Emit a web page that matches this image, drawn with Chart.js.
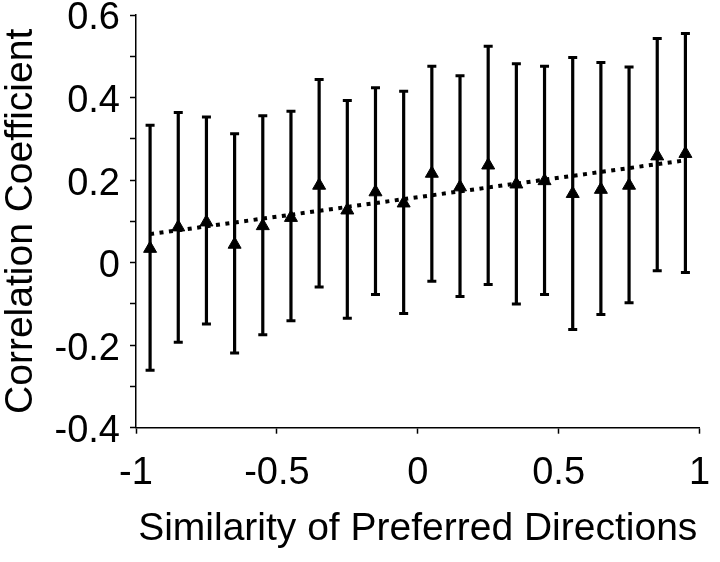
<!DOCTYPE html>
<html>
<head>
<meta charset="utf-8">
<script src="https://cdn.jsdelivr.net/npm/chart.js@4/dist/chart.umd.min.js"></script>
<style>
html,body{margin:0;padding:0;background:#fff;}
#wrap{width:720px;height:562px;}
</style>
</head>
<body>
<div id="wrap"><canvas id="c" width="720" height="562"></canvas></div>
<script>
// Similarity of preferred directions (bin centres)
const similarity = [-0.95,-0.85,-0.75,-0.65,-0.55,-0.45,-0.35,-0.25,-0.15,-0.05,
                    0.05,0.15,0.25,0.35,0.45,0.55,0.65,0.75,0.85,0.95];
// Mean correlation coefficient per bin
const meanCorr  = [0.034,0.086,0.098,0.044,0.089,0.109,0.187,0.127,0.171,0.144,
                   0.216,0.183,0.236,0.190,0.198,0.167,0.177,0.187,0.258,0.264];
// Upper end of error bars
const upperCorr = [0.333,0.364,0.353,0.312,0.356,0.367,0.444,0.393,0.424,0.415,
                   0.476,0.453,0.524,0.482,0.476,0.497,0.485,0.474,0.543,0.555];
// Lower end of error bars
const lowerCorr = [-0.261,-0.193,-0.149,-0.219,-0.175,-0.141,-0.059,-0.135,-0.077,-0.123,
                   -0.045,-0.082,-0.053,-0.100,-0.077,-0.162,-0.126,-0.097,-0.020,-0.024];
// Regression line end points
const fitX = [-0.95, 0.95];
const fitY = [0.069, 0.248];
// Tick labels
const xTickLabels = ['-1','-0.5','0','0.5','1'];
const yTickLabels = ['-0.4','-0.2','0','0.2','0.4','0.6'];

const FONT = "'Liberation Sans', Arial, Helvetica, sans-serif";

const errData = [];
similarity.forEach((x, i) => {
  errData.push({x: x, y: lowerCorr[i]});
  errData.push({x: x, y: upperCorr[i]});
  errData.push({x: x, y: null});
});
const capData = similarity.map((x, i) => ({x: x, y: upperCorr[i]}))
  .concat(similarity.map((x, i) => ({x: x, y: lowerCorr[i]})));
const meanData = similarity.map((x, i) => ({x: x, y: meanCorr[i]}));
const fitData = fitX.map((x, i) => ({x: x, y: fitY[i]}));

function labelFor(list, v) {
  for (const s of list) { if (Math.abs(parseFloat(s) - v) < 1e-6) return s; }
  return '';
}

new Chart(document.getElementById('c'), {
  type: 'scatter',
  data: {
    datasets: [
      {
        label: 'Mean',
        data: meanData,
        pointStyle: 'triangle',
        pointRadius: 7.5,
        pointHoverRadius: 7.5,
        backgroundColor: '#000',
        borderColor: '#000',
        pointBorderWidth: 1,
        showLine: false,
        order: 0
      },
      {
        label: 'Fit',
        data: fitData,
        showLine: true,
        borderColor: '#000',
        borderWidth: 4,
        borderDash: [4, 5.5],
        pointRadius: 0,
        pointHoverRadius: 0,
        fill: false,
        order: 1
      },
      {
        label: 'Caps',
        data: capData,
        pointStyle: 'line',
        pointRadius: 4.5,
        pointHoverRadius: 4.5,
        borderColor: '#000',
        backgroundColor: '#000',
        pointBorderWidth: 3,
        showLine: false,
        order: 2
      },
      {
        label: 'SD',
        data: errData,
        showLine: true,
        spanGaps: false,
        borderColor: '#000',
        borderWidth: 3.2,
        pointRadius: 0,
        pointHoverRadius: 0,
        fill: false,
        order: 3
      }
    ]
  },
  options: {
    responsive: false,
    animation: false,
    devicePixelRatio: 1,
    layout: { padding: { top: 15, right: 20.5, bottom: 0, left: 0 } },
    plugins: {
      legend: { display: false },
      tooltip: { enabled: false }
    },
    scales: {
      x: {
        type: 'linear',
        min: -1, max: 1,
        offset: false,
        border: { display: true, color: '#000', width: 1.5 },
        grid: { display: true, drawOnChartArea: false, drawTicks: true, tickLength: 6, tickWidth: 1.5, tickColor: '#000', color: '#000' },
        ticks: {
          stepSize: 0.5,
          color: '#000',
          padding: 17,
          maxRotation: 0,
          autoSkip: false,
          font: { family: FONT, size: 38 },
          callback: (v) => labelFor(xTickLabels, v)
        },
        title: {
          display: true,
          text: 'Similarity of Preferred Directions',
          color: '#000',
          font: { family: FONT, size: 39 },
          padding: { top: 0, bottom: 9 }
        },
        afterFit: (s) => { s.height = 134.3; s.paddingLeft = 0; s.paddingRight = 0; }
      },
      y: {
        type: 'linear',
        min: -0.4, max: 0.6,
        border: { display: true, color: '#000', width: 1.5 },
        grid: { display: true, drawOnChartArea: false, drawTicks: true, tickLength: 6, tickWidth: 1.5, tickColor: '#000', color: '#000' },
        ticks: {
          stepSize: 0.1,
          color: '#000',
          padding: 10,
          labelOffset: 4,
          autoSkip: false,
          font: { family: FONT, size: 38 },
          callback: (v) => labelFor(yTickLabels, v)
        },
        title: {
          display: true,
          text: 'Correlation Coefficient',
          color: '#000',
          font: { family: FONT, size: 39, lineHeight: 1.0 },
          padding: { top: 1.5, bottom: 0 }
        },
        afterFit: (s) => { s.width = 136; s.paddingTop = 0; s.paddingBottom = 0; }
      }
    }
  }
});
</script>
</body>
</html>
